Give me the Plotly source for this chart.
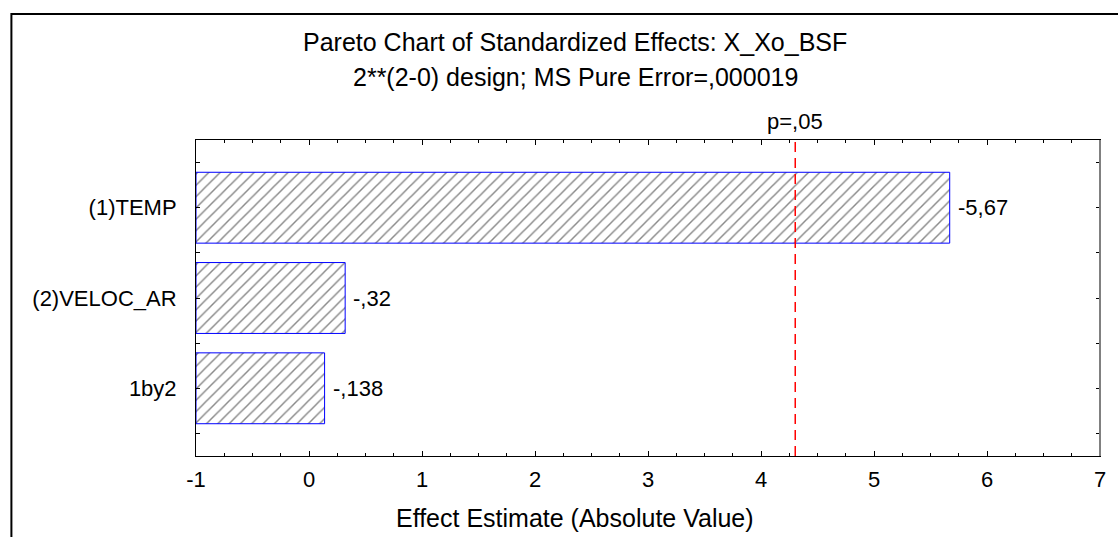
import plotly.graph_objects as go

# ---- data ----
effects = ["(1)TEMP", "(2)VELOC_AR", "1by2"]
abs_values = [5.67, 0.32, 0.138]
value_labels = ["-5,67", "-,32", "-,138"]
p_crit = 4.303
p_label = "p=,05"
x_ticks = [-1, 0, 1, 2, 3, 4, 5, 6, 7]
x_tick_labels = ["-1", "0", "1", "2", "3", "4", "5", "6", "7"]
title_1 = "Pareto Chart of Standardized Effects: X_Xo_BSF"
title_2 = "2**(2-0) design; MS Pure Error=,000019"
x_title = "Effect Estimate (Absolute Value)"

X_MIN, X_MAX = -1, 7
FONT = "Liberation Sans, Arial, sans-serif"

ypos = list(range(len(effects)))

fig = go.Figure()
fig.add_trace(go.Bar(
    y=ypos,
    x=[v - X_MIN for v in abs_values],
    base=X_MIN,
    orientation="h",
    width=0.785,
    marker=dict(
        color="white",
        line=dict(color="#0000ff", width=1),
        pattern=dict(shape="/", size=8, solidity=0.18, fgcolor="#111111", bgcolor="white"),
    ),
    hoverinfo="skip",
    showlegend=False,
))

# critical value line
fig.add_shape(type="line", xref="x", yref="paper", x0=p_crit, x1=p_crit, y0=0, y1=1,
              line=dict(color="#ff0000", width=1.5, dash="10px,6px"))
fig.add_annotation(x=p_crit, xref="x", y=1.057, yref="paper", text=p_label, showarrow=False,
                   font=dict(size=22, color="black", family=FONT), xanchor="center", yanchor="middle")

# value labels
for yi, v, t in zip(ypos, abs_values, value_labels):
    fig.add_annotation(x=v, y=yi, xref="x", yref="y", text=t, showarrow=False, xanchor="left",
                       xshift=6, font=dict(size=22, color="black", family=FONT))

# titles
fig.add_annotation(x=0.4194, y=1.31, xref="paper", yref="paper", text=title_1, showarrow=False,
                   font=dict(size=25, color="black", family=FONT), xanchor="center", yanchor="middle")
fig.add_annotation(x=0.4194, y=1.199, xref="paper", yref="paper", text=title_2, showarrow=False,
                   font=dict(size=25, color="black", family=FONT), xanchor="center", yanchor="middle")
fig.add_annotation(x=0.4194, y=-0.196, xref="paper", yref="paper", text=x_title, showarrow=False,
                   font=dict(size=25, color="black", family=FONT), xanchor="center", yanchor="middle")

# right axis gray line
fig.add_shape(type="line", xref="paper", yref="paper", x0=1, x1=1, y0=0, y1=1,
              line=dict(color="#808080", width=2))
# outer frame
fig.add_shape(type="rect", xref="paper", yref="paper", x0=-0.2042, x1=1.2, y0=-0.5, y1=1.3987,
              line=dict(color="black", width=2))

fig.update_xaxes(
    range=[X_MIN, X_MAX], tickvals=x_ticks, ticktext=x_tick_labels, ticks="inside", ticklen=5,
    tickcolor="black", showline=True, linecolor="black", linewidth=1, mirror="ticks",
    showgrid=False, zeroline=False,
    tickfont=dict(size=22, color="black", family=FONT), ticklabelstandoff=4,
    minor=dict(dtick=0.25, ticks="inside", ticklen=3, tickcolor="black", showgrid=False),
)
fig.update_yaxes(
    range=[len(effects) - 0.25, -0.75], tickvals=ypos, ticktext=effects, ticks="inside", ticklen=4,
    tickcolor="black", showline=True, linecolor="black", linewidth=1, mirror="ticks", showgrid=False,
    zeroline=False, tickfont=dict(size=22, color="black", family=FONT), ticklabelstandoff=14,
    minor=dict(dtick=0.5, tick0=-0.5, ticks="inside", ticklen=4, tickcolor="black", showgrid=False),
)

fig.update_layout(
    width=1118, height=537,
    margin=dict(l=196, r=16, t=140, b=81),
    paper_bgcolor="white", plot_bgcolor="white",
    font=dict(family=FONT, color="black"),
    showlegend=False,
)

fig.write_html("out.html")
